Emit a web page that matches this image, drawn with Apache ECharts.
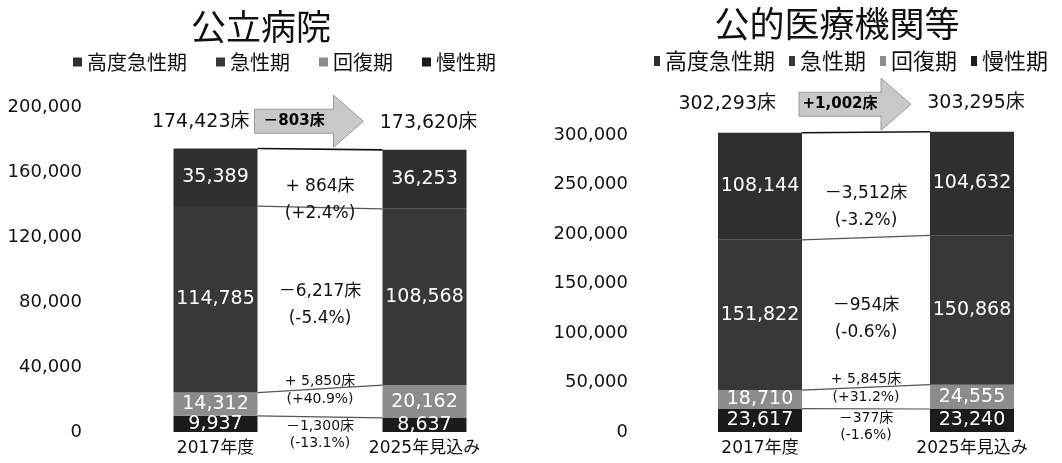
<!DOCTYPE html>
<html>
<head>
<meta charset="utf-8">
<script src="https://cdn.jsdelivr.net/npm/echarts@6/dist/echarts.min.js"></script>
<style>
  html, body { margin: 0; padding: 0; background: #fff; }
  #chart { width: 1062px; height: 463px; }
</style>
</head>
<body>
<div id="chart"></div>
<script>
const categories = ['2017年度', '2025年見込み'];
const stages = ['高度急性期', '急性期', '回復期', '慢性期'];

// 公立病院
const publicKodo = [35389, 36253];
const publicKyusei = [114785, 108568];
const publicKaifuku = [14312, 20162];
const publicMansei = [9937, 8637];

// 公的医療機関等
const koutekiKodo = [108144, 104632];
const koutekiKyusei = [151822, 150868];
const koutekiKaifuku = [18710, 24555];
const koutekiMansei = [23617, 23240];

const publicAxis = { max: 200000, interval: 40000 };
const koutekiAxis = { max: 300000, interval: 50000 };

const FONT = "'DejaVu Sans', 'Noto Sans CJK JP', sans-serif";
const CJK = "'Noto Sans CJK JP', sans-serif";
const BAR_W = 84;
const stageColors = { '高度急性期': '#2f2f2f', '急性期': '#383838', '回復期': '#8c8c8c', '慢性期': '#1b1b1b' };

const fmt = v => Math.round(v).toLocaleString('en-US');

const panels = [
  {
    title: '公立病院',
    // bottom -> top
    stack: [['慢性期', publicMansei], ['回復期', publicKaifuku], ['急性期', publicKyusei], ['高度急性期', publicKodo]],
    totalGap: 8, totalRise: 27
  },
  {
    title: '公的医療機関等',
    stack: [['慢性期', koutekiMansei], ['回復期', koutekiKaifuku], ['急性期', koutekiKyusei], ['高度急性期', koutekiKodo]],
    totalGap: 26, totalRise: 29
  }
];

// where the change texts sit, per segment bottom -> top
const diffAnchor = ['top', 'top', 'mid', 'mid'];
const diffShift = [18, 1, 7, 22];
const diffSize = [14, 14, 17, 17];
const diffLineGap = [17, 18, 27, 27];

function diffText(d) {
  return d >= 0 ? '+ ' + fmt(d) + '床' : '－' + fmt(-d) + '床';
}

function annotation(idx) {
  const panel = panels[idx];
  return {
    type: 'custom',
    xAxisIndex: idx,
    yAxisIndex: idx,
    data: [[0, 0]],
    z: 10,
    silent: true,
    clip: false,
    renderItem: (params, api) => {
      const children = [];
      const cx0 = api.coord([0, 0])[0];
      const cx1 = api.coord([1, 0])[0];
      const x0 = cx0 + BAR_W / 2;
      const x1 = cx1 - BAR_W / 2;
      const mx = (x0 + x1) / 2;
      let cum = [0, 0];
      panel.stack.forEach(([name, vals], i) => {
        const bottom = cum.slice();
        cum = [cum[0] + vals[0], cum[1] + vals[1]];
        const yTop0 = api.coord([0, cum[0]])[1];
        const yTop1 = api.coord([1, cum[1]])[1];
        const isTop = i === panel.stack.length - 1;
        children.push({
          type: 'line',
          shape: { x1: x0, y1: yTop0, x2: x1, y2: yTop1 },
          style: { stroke: isTop ? '#111' : '#555', lineWidth: isTop ? 1.6 : 1.2 }
        });
        let yc;
        if (diffAnchor[i] === 'top') {
          yc = (yTop0 + yTop1) / 2;
        } else {
          const m0 = api.coord([0, (bottom[0] + cum[0]) / 2])[1];
          const m1 = api.coord([1, (bottom[1] + cum[1]) / 2])[1];
          yc = (m0 + m1) / 2;
        }
        yc += diffShift[i];
        const d = vals[1] - vals[0];
        const pct = d / vals[0] * 100;
        const pctText = '(' + (pct >= 0 ? '+' : '-') + Math.abs(pct).toFixed(1) + '%)';
        const g = diffLineGap[i] / 2;
        [[diffText(d), yc - g], [pctText, yc + g]].forEach(([t, y]) => {
          children.push({
            type: 'text', x: mx, y: y,
            style: { text: t, fill: '#111', fontSize: diffSize[i], fontFamily: FONT, align: 'center', verticalAlign: 'middle' }
          });
        });
      });
      // totals and arrow
      const yT0 = api.coord([0, cum[0]])[1];
      const yT1 = api.coord([1, cum[1]])[1];
      const bodyStart = x0 - 3;
      const tip = x1 - 19;
      const headBase = tip - 30;
      const ya = (yT0 + yT1) / 2 - 28;
      children.push({
        type: 'polygon',
        shape: { points: [[bodyStart, ya - 12], [headBase, ya - 12], [headBase, ya - 26], [tip, ya], [headBase, ya + 26], [headBase, ya + 12], [bodyStart, ya + 12]] },
        style: { fill: '#c8c8c8', stroke: '#9a9a9a', lineWidth: 1 }
      });
      const dt = cum[1] - cum[0];
      children.push({
        type: 'text', x: (bodyStart + headBase) / 2, y: ya,
        style: { text: (dt >= 0 ? '+' : '－') + fmt(Math.abs(dt)) + '床', fill: '#000', fontSize: 15, fontWeight: 'bold', fontFamily: FONT, align: 'center', verticalAlign: 'middle' }
      });
      children.push({
        type: 'text', x: x0 - panel.totalGap, y: yT0 - panel.totalRise,
        style: { text: fmt(cum[0]) + '床', fill: '#111', fontSize: 19, fontFamily: FONT, align: 'right', verticalAlign: 'middle' }
      });
      children.push({
        type: 'text', x: cx1 + 4, y: yT1 - panel.totalRise,
        style: { text: fmt(cum[1]) + '床', fill: '#111', fontSize: 19, fontFamily: FONT, align: 'center', verticalAlign: 'middle' }
      });
      return { type: 'group', children };
    }
  };
}

const series = [];
panels.forEach((panel, idx) => {
  panel.stack.forEach(([name, vals]) => {
    series.push({
      type: 'bar',
      name,
      stack: 'panel' + idx,
      xAxisIndex: idx,
      yAxisIndex: idx,
      data: vals,
      barWidth: BAR_W,
      clip: false,
      itemStyle: { color: stageColors[name] },
      label: {
        show: true,
        position: 'inside',
        color: '#fff',
        fontSize: 19,
        fontFamily: FONT,
        formatter: p => fmt(p.value)
      }
    });
  });
  series.push(annotation(idx));
});

const chart = echarts.init(document.getElementById('chart'), null, { renderer: 'canvas' });
chart.setOption({
  backgroundColor: '#fff',
  animation: false,
  title: [
    { text: panels[0].title, left: 256, top: 4, textAlign: 'center', textStyle: { fontSize: 35, fontWeight: 'normal', fontFamily: CJK, color: '#111' } },
    { text: panels[1].title, left: 832, top: 1, textAlign: 'center', textStyle: { fontSize: 35, fontWeight: 'normal', fontFamily: CJK, color: '#111' } }
  ],
  legend: [
    { data: stages, left: 73, top: 52, padding: 0, icon: 'rect', itemWidth: 9, itemHeight: 9, itemGap: 29, selectedMode: false,
      textStyle: { fontSize: 20, fontFamily: CJK, color: '#111' } },
    { data: stages, left: 654, top: 50, padding: 0, icon: 'rect', itemWidth: 6, itemHeight: 10, itemGap: 14, selectedMode: false,
      textStyle: { fontSize: 22, fontFamily: CJK, color: '#111' } }
  ],
  grid: [
    { left: 111, top: 107, width: 418, bottom: 31, outerBoundsMode: 'none' },
    { left: 654, top: 135, width: 424, bottom: 31, outerBoundsMode: 'none' }
  ],
  xAxis: [0, 1].map(i => ({
    type: 'category', gridIndex: i, data: categories,
    axisLine: { show: false }, axisTick: { show: false },
    axisLabel: { fontSize: 17, margin: 8, color: '#111', fontFamily: FONT }
  })),
  yAxis: [publicAxis, koutekiAxis].map((ax, i) => ({
    type: 'value', gridIndex: i, min: 0, max: ax.max, interval: ax.interval,
    splitLine: { show: false }, axisLine: { show: false }, axisTick: { show: false },
    axisLabel: { fontSize: 18, margin: i === 0 ? 29 : 26, color: '#111', fontFamily: FONT, formatter: v => fmt(v) }
  })),
  series
});
</script>
</body>
</html>
